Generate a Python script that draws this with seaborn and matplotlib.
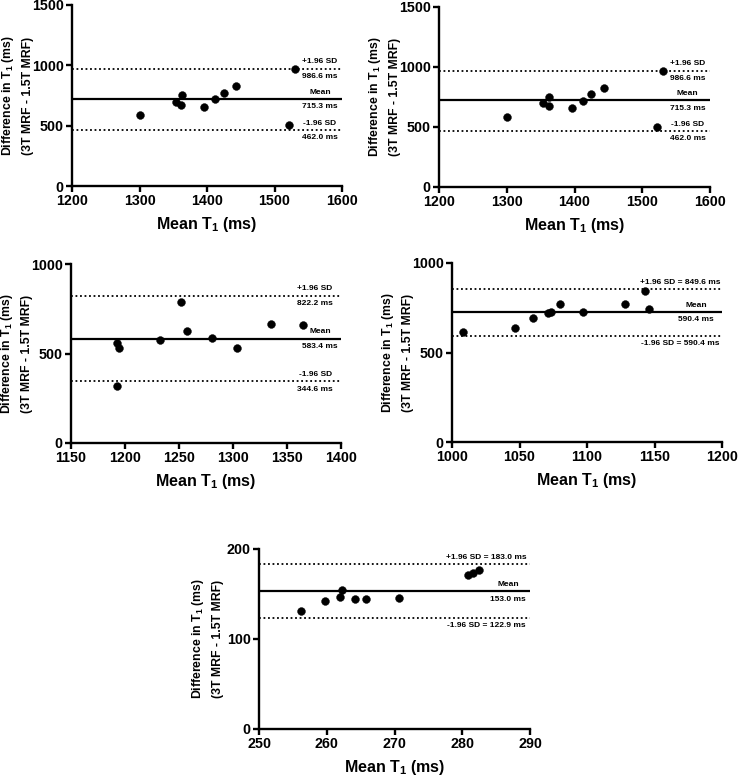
import matplotlib
matplotlib.use("Agg")
import matplotlib.pyplot as plt
import seaborn as sns
import pandas as pd

# ---- data ----
p1_x = [1300, 1354, 1363, 1362, 1396, 1412, 1425, 1443, 1522, 1531]
p1_y = [586, 699, 754, 671, 657, 718, 771, 826, 503, 970]
p1_lines = [970, 721, 464]
p1_labels = ["+1.96 SD", "986.6 ms", "Mean", "715.3 ms", "-1.96 SD", "462.0 ms"]

p2_x = [1300, 1354, 1363, 1362, 1396, 1412, 1425, 1443, 1522, 1531]
p2_y = [586, 699, 754, 671, 657, 718, 771, 826, 503, 970]
p2_lines = [970, 721, 464]
p2_labels = ["+1.96 SD", "986.6 ms", "Mean", "715.3 ms", "-1.96 SD", "462.0 ms"]

p3_x = [1193, 1194, 1193, 1232, 1252, 1257, 1281, 1304, 1335, 1365]
p3_y = [561, 528, 316, 574, 790, 626, 585, 530, 664, 658]
p3_lines = [823, 583, 344]
p3_labels = ["+1.96 SD", "822.2 ms", "Mean", "583.4 ms", "-1.96 SD", "344.6 ms"]

p4_x = [1008, 1047, 1060, 1071, 1073, 1080, 1097, 1128, 1143, 1146]
p4_y = [616, 638, 692, 722, 724, 772, 724, 770, 845, 743]
p4_lines = [854, 726, 593]
p4_labels = ["+1.96 SD = 849.6 ms", "Mean", "590.4 ms", "-1.96 SD = 590.4 ms"]

p5_x = [256.2, 259.8, 262.0, 262.3, 264.2, 265.8, 270.6, 280.8, 281.6, 282.4]
p5_y = [131.1, 142.6, 146.2, 154.0, 144.4, 144.4, 145.6, 171.1, 173.3, 176.2]
p5_lines = [182.9, 152.9, 123.3]
p5_labels = ["+1.96 SD = 183.0 ms", "Mean", "153.0 ms", "-1.96 SD = 122.9 ms"]

xlims = [(1200, 1600), (1200, 1600), (1150, 1400), (1000, 1200), (250, 290)]
ylims = [(0, 1500), (0, 1500), (0, 1000), (0, 1000), (0, 200)]
xticks = [[1200, 1300, 1400, 1500, 1600], [1200, 1300, 1400, 1500, 1600],
          [1150, 1200, 1250, 1300, 1350, 1400], [1000, 1050, 1100, 1150, 1200],
          [250, 260, 270, 280, 290]]
yticks = [[0, 500, 1000, 1500], [0, 500, 1000, 1500], [0, 500, 1000],
          [0, 500, 1000], [0, 100, 200]]

xlabel = "Mean T$_1$ (ms)"
ylabel = "Difference in T$_1$ (ms)\n(3T MRF - 1.5T MRF)"

sns.set_style("ticks")
plt.rcParams['font.family'] = ['Liberation Sans', 'DejaVu Sans']
plt.rcParams['font.weight'] = 'bold'
plt.rcParams['text.color'] = 'black'
plt.rcParams['axes.labelcolor'] = 'black'
plt.rcParams['xtick.color'] = 'black'
plt.rcParams['ytick.color'] = 'black'
plt.rcParams['mathtext.fontset'] = 'custom'
plt.rcParams['mathtext.rm'] = 'Liberation Sans:bold'
plt.rcParams['mathtext.bf'] = 'Liberation Sans:bold'
plt.rcParams['mathtext.default'] = 'bf'

W, H = 740, 779
fig = plt.figure(figsize=(W / 100, H / 100), dpi=100)

# pixel boxes: left, right, top, bottom
boxes = [(72, 342, 5, 186), (439, 710, 7, 187), (71, 341, 264, 443),
         (452, 722, 263, 442), (259, 530, 549, 729)]
ylab_x = [-0.14, -0.14, -0.14, -0.14, -0.13]

panels = [
    (p1_x, p1_y, p1_lines, p1_labels, "split", 0.918, 0.918),
    (p2_x, p2_y, p2_lines, p2_labels, "split", 0.918, 0.918),
    (p3_x, p3_y, p3_lines, p3_labels, "split", 0.904, 0.922),
    (p4_x, p4_y, p4_lines, p4_labels, "eq", 0.844, 0.905),
    (p5_x, p5_y, p5_lines, p5_labels, "eq", 0.84, 0.919),
]

for i, (box, pan) in enumerate(zip(boxes, panels)):
    l, r, t, b = box
    ax = fig.add_axes([l / W, 1 - b / H, (r - l) / W, (b - t) / H])
    xs, ys, lines, labels, mode, xsd, xmean = pan
    df = pd.DataFrame({"x": xs, "y": ys})
    sns.scatterplot(data=df, x="x", y="y", ax=ax, color="black", s=32,
                    edgecolor="black", linewidth=0.3, zorder=3, clip_on=False)
    up, mean, lo = lines
    ax.axhline(up, color="black", ls=(0, (1, 1.5)), lw=1.3)
    ax.axhline(mean, color="black", ls="-", lw=1.6)
    ax.axhline(lo, color="black", ls=(0, (1, 1.5)), lw=1.3)

    kw = dict(xycoords=('axes fraction', 'data'), textcoords='offset points',
              ha='center', fontsize=6, fontweight='bold', color='black')
    if mode == "split":
        ax.annotate(labels[0], xy=(xsd, up), xytext=(0, 2.5), va='bottom', **kw)
        ax.annotate(labels[1], xy=(xsd, up), xytext=(0, -3), va='top', **kw)
        ax.annotate(labels[2], xy=(xmean, mean), xytext=(0, 2.5), va='bottom', **kw)
        ax.annotate(labels[3], xy=(xmean, mean), xytext=(0, -3), va='top', **kw)
        ax.annotate(labels[4], xy=(xsd, lo), xytext=(0, 2.5), va='bottom', **kw)
        ax.annotate(labels[5], xy=(xsd, lo), xytext=(0, -3), va='top', **kw)
    else:
        ax.annotate(labels[0], xy=(xsd, up), xytext=(0, 2.5), va='bottom', **kw)
        ax.annotate(labels[1], xy=(xmean, mean), xytext=(0, 2.5), va='bottom', **kw)
        ax.annotate(labels[2], xy=(xmean, mean), xytext=(0, -3), va='top', **kw)
        ax.annotate(labels[3], xy=(xsd, lo), xytext=(0, -3), va='top', **kw)

    ax.set_xlim(*xlims[i])
    ax.set_ylim(*ylims[i])
    ax.set_xticks(xticks[i])
    ax.set_yticks(yticks[i])
    sns.despine(ax=ax)
    for s in ("left", "bottom"):
        ax.spines[s].set_linewidth(1.7)
        ax.spines[s].set_color("black")
    ax.tick_params(axis="both", direction="out", length=4.5, width=1.7,
                   colors="black", labelsize=10.3, pad=1.5)
    for lab in ax.get_xticklabels() + ax.get_yticklabels():
        lab.set_fontweight("bold")
    ax.set_xlabel(xlabel, fontsize=11.5, fontweight="bold", labelpad=5)
    ax.set_ylabel(ylabel, fontsize=8.8, fontweight="bold", linespacing=1.65)
    ax.yaxis.set_label_coords(ylab_x[i], 0.5)

fig.savefig("out.png", dpi=100)
